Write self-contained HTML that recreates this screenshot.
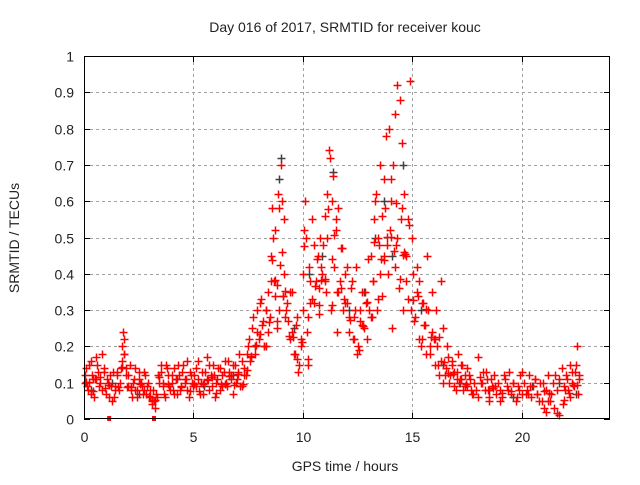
<!DOCTYPE html>
<html><head><meta charset="utf-8"><style>
body{margin:0;background:#fff}
svg text{font-family:"Liberation Sans",sans-serif;font-size:14px;fill:#222}
</style></head><body>
<svg id="c" width="640" height="480">
<rect width="640" height="480" fill="#fff"/>
<text x="345" y="32" text-anchor="middle">Day 016 of 2017, SRMTID for receiver kouc</text>
<text x="345" y="471" text-anchor="middle">GPS time / hours</text>
<text transform="translate(19,238) rotate(-90)" text-anchor="middle">SRMTID / TECUs</text>
<g id="grid"></g>
<g id="ticks"></g>
<g id="gray"></g>
<g id="red"></g>
<rect x="84.5" y="56.5" width="525" height="362" fill="none" stroke="#000"/>
</svg>
<script>
const xTicks=[0,5,10,15,20];
const yTicks=[0,0.1,0.2,0.3,0.4,0.5,0.6,0.7,0.8,0.9,1];
const yTickLabels=["0","0.1","0.2","0.3","0.4","0.5","0.6","0.7","0.8","0.9","1"];
const redT=[0.05,0.1,0.2,0.3,0.35,0.45,0.5,0.6,0.7,0.8,0.9,1.0,1.1,1.2,1.3,1.4,1.5,1.6,1.7,1.75,1.8,1.85,1.9,2.0,2.1,2.2,2.3,2.4,2.5,2.6,2.7,2.8,2.9,3.0,3.1,3.15,3.2,3.3,3.4,3.5,3.6,3.7,3.8,3.9,4.0,4.1,4.2,4.3,4.4,4.5,4.6,4.7,4.8,4.9,5.0,5.1,5.2,5.3,5.4,5.5,5.6,5.7,5.8,5.9,6.0,6.1,6.2,6.3,6.4,6.5,6.6,6.7,6.8,6.9,7.0,7.1,7.2,7.3,7.4,7.5,7.6,7.7,7.8,7.9,8.0,8.1,8.2,8.3,8.4,8.5,8.55,8.6,8.7,8.75,8.8,8.85,8.9,9.0,9.05,9.1,9.15,9.2,9.3,9.4,9.5,9.6,9.7,9.8,9.9,10.0,10.05,10.1,10.2,10.25,10.3,10.4,10.5,10.6,10.7,10.75,10.8,10.9,11.0,11.05,11.1,11.2,11.3,11.35,11.4,11.5,11.55,11.6,11.7,11.8,11.9,12.0,12.1,12.2,12.3,12.4,12.5,12.6,12.7,12.8,12.9,13.0,13.1,13.2,13.25,13.3,13.4,13.5,13.55,13.6,13.7,13.75,13.8,13.9,14.0,14.05,14.1,14.2,14.25,14.3,14.4,14.5,14.55,14.6,14.65,14.7,14.8,14.9,15.0,15.1,15.2,15.3,15.4,15.5,15.6,15.7,15.8,15.9,16.0,16.1,16.2,16.3,16.4,16.5,16.6,16.7,16.8,16.9,17.0,17.1,17.2,17.3,17.4,17.5,17.6,17.8,18.0,18.2,18.4,18.5,18.6,18.8,19.0,19.2,19.4,19.6,19.8,20.0,20.2,20.4,20.6,20.8,21.0,21.1,21.2,21.3,21.5,21.7,21.9,22.0,22.1,22.2,22.3,22.4,22.5,22.6,22.65];
const redV=[0.1,0.14,0.08,0.16,0.12,0.06,0.11,0.15,0.09,0.18,0.13,0.07,0.1,0.12,0.05,0.09,0.13,0.08,0.14,0.2,0.24,0.18,0.12,0.09,0.15,0.06,0.11,0.08,0.13,0.1,0.07,0.12,0.09,0.06,0.04,0.08,0.05,0.07,0.12,0.15,0.1,0.06,0.14,0.09,0.12,0.07,0.11,0.15,0.08,0.13,0.1,0.16,0.06,0.12,0.09,0.14,0.11,0.07,0.13,0.1,0.17,0.08,0.12,0.15,0.06,0.11,0.14,0.09,0.13,0.1,0.16,0.12,0.07,0.15,0.11,0.18,0.09,0.14,0.12,0.2,0.16,0.25,0.18,0.3,0.22,0.33,0.27,0.2,0.35,0.28,0.45,0.58,0.38,0.52,0.25,0.62,0.3,0.7,0.46,0.34,0.55,0.28,0.32,0.22,0.35,0.18,0.26,0.13,0.2,0.3,0.52,0.6,0.24,0.15,0.42,0.33,0.48,0.38,0.45,0.29,0.5,0.4,0.56,0.35,0.62,0.74,0.3,0.44,0.67,0.52,0.24,0.58,0.38,0.47,0.33,0.42,0.28,0.36,0.22,0.3,0.18,0.27,0.35,0.25,0.32,0.44,0.28,0.38,0.55,0.6,0.3,0.48,0.7,0.34,0.45,0.58,0.78,0.4,0.52,0.66,0.25,0.84,0.48,0.92,0.36,0.55,0.76,0.3,0.62,0.45,0.33,0.93,0.5,0.27,0.42,0.38,0.2,0.32,0.26,0.45,0.18,0.35,0.22,0.3,0.15,0.38,0.25,0.12,0.2,0.1,0.16,0.13,0.08,0.18,0.11,0.15,0.09,0.14,0.12,0.07,0.17,0.1,0.13,0.06,0.11,0.09,0.05,0.12,0.08,0.1,0.06,0.13,0.07,0.09,0.11,0.05,0.1,0.08,0.12,0.05,0.03,0.01,0.04,0.08,0.11,0.06,0.13,0.09,0.15,0.07,0.12,0.1,0.14,0.24,0.09];
const red2Start=0.03, red2Step=0.1;
const red2V=[.12,.09,.15,.07,.11,.17,.13,.1,.08,.14, .11,.06,.09,.13,.08,.12,.1,.16,.22,.14, .12,.08,.1,.14,.06,.11,.09,.13,.07,.1, .08,.05,.03,.06,.1,.13,.09,.15,.12,.08, .1,.14,.07,.12,.09,.15,.11,.08,.13,.1, .12,.09,.16,.1,.07,.13,.11,.15,.09,.12, .1,.14,.08,.12,.16,.09,.13,.11,.15,.1, .13,.09,.16,.12,.18,.22,.17,.28,.2,.24, .32,.26,.2,.3,.24,.38,.5,.34,.27,.58, .6,.4,.3,.27,.35,.24,.18,.28,.15,.22, .4,.5,.28,.38,.55,.32,.44,.36,.42,.48, .38,.5,.72,.6,.42,.55,.35,.47,.3,.4, .32,.24,.38,.28,.42,.2,.3,.26,.35,.22, .3,.45,.38,.62,.5,.4,.56,.66,.48,.8, .6,.7,.42,.5,.88,.58,.46,.38,.55,.3, .4,.28,.35,.22,.32,.26,.18,.3,.2,.24, .15,.2,.12,.16,.1,.14,.17,.12,.15,.09, .13,.1,.15,.08,.12,.09,.11,.07,.1,.08, .06,.1,.13,.08,.11,.05,.09,.12,.07,.1, .08,.06,.11,.09,.13,.07,.1,.05,.09,.12, .07,.1,.08,.12,.06,.09,.11,.07,.1,.05, .03,.02,.05,.07,.1,.12,.08,.11,.14,.09, .12,.08,.15,.1,.13,.2,.11];
const grayT=[0.3,1.3,2.5,4.2,5.5,6.8,7.8,8.3,8.9,9.0,9.6,10.3,10.9,11.4,12.1,12.8,13.3,13.7,14.1,14.6,15.4,16.4,17.2,18.5,19.6,20.5,21.7,22.5];
const grayV=[0.08,0.1,0.07,0.11,0.09,0.12,0.2,0.3,0.66,0.72,0.25,0.4,0.45,0.68,0.3,0.35,0.5,0.6,0.45,0.7,0.3,0.15,0.1,0.08,0.06,0.09,0.1,0.07];
const redMarkT=[1.15,3.2];
const X=t=>84+t*21.875, Y=v=>419-v*363;
const NS='http://www.w3.org/2000/svg';
const mk=(tag,a,p)=>{const e=document.createElementNS(NS,tag);for(const k in a)e.setAttribute(k,a[k]);p.appendChild(e);return e;};
const grid=document.getElementById('grid'),ticks=document.getElementById('ticks');
xTicks.forEach(t=>{const x=Math.round(X(t))+0.5;
 if(t>0){const l=mk('line',{x1:x,x2:x,y1:56,y2:419,stroke:'#a0a0a0','stroke-dasharray':'3,3'},grid);}
 mk('line',{x1:x,x2:x,y1:419,y2:413,stroke:'#000'},ticks);mk('line',{x1:x,x2:x,y1:56,y2:62,stroke:'#000'},ticks);
 const s=mk('text',{x:x,y:442,'text-anchor':'middle'},ticks);s.textContent=t;});
yTicks.forEach((v,i)=>{const y=Math.round(Y(v))+0.5;
 if(v>0&&v<1){const l=mk('line',{x1:84,x2:610,y1:y,y2:y,stroke:'#a0a0a0','stroke-dasharray':'3,3'},grid);}
 mk('line',{x1:84,x2:90,y1:y,y2:y,stroke:'#000'},ticks);mk('line',{x1:604,x2:610,y1:y,y2:y,stroke:'#000'},ticks);
 const s=mk('text',{x:74,y:y+5,'text-anchor':'end'},ticks);s.textContent=yTickLabels[i];});
function plus(g,t,v,c){const x=Math.round(X(t))+0.5,y=Math.round(Y(v))+0.5;
 const p=mk('path',{d:`M${x-4} ${y}h8M${x} ${y-4}v8`,stroke:c,'stroke-width':1.5},g);
 }
const gg=document.getElementById('gray'),rg=document.getElementById('red');
grayT.forEach((t,i)=>plus(gg,t,grayV[i],'#404040'));
redT.forEach((t,i)=>{plus(rg,t,redV[i],'#ff0000');});
red2V.forEach((v,i)=>{plus(rg,red2Start+i*red2Step,v,'#ff0000');});
redT.forEach((t,i)=>{if(i%2==0&&i+1<redT.length)plus(rg,(t+redT[i+1])/2,(redV[i]+redV[i+1])/2*0.85,'#ff0000');});
redMarkT.forEach(t=>{const r=mk('rect',{x:X(t)-2,y:416,width:4,height:5,fill:'#ff0000'},rg);});
</script>
</body></html>
